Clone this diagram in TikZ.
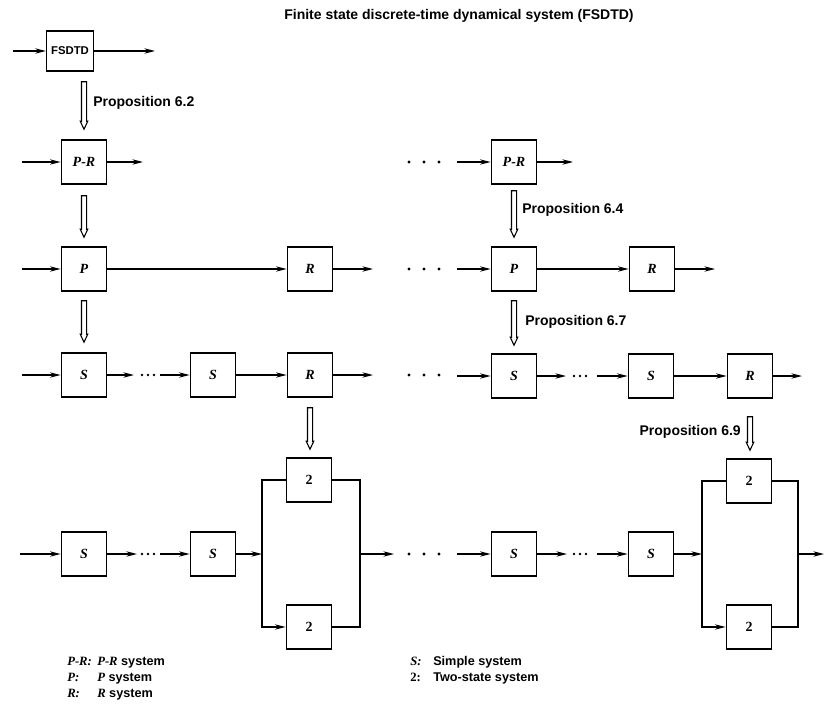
\documentclass[tikz,border=0pt]{standalone}
\usepackage{fontspec}
\setmainfont{Liberation Serif}
\newfontfamily\labelsans{Liberation Sans}
\usetikzlibrary{arrows.meta,calc}
\newcommand\hollowarr[2]{%
  \draw[line width=0.8pt, fill=white] let \p1=(#1), \p2=(#2) in
    (\x1-1.9pt,\y1) -- (\x1+1.9pt,\y1) -- (\x1+1.9pt,\y2+6pt) -- (\x1+2.8pt,\y2+6pt)
    -- (\x1,\y2) -- (\x1-2.8pt,\y2+6pt) -- (\x1-1.9pt,\y2+6pt) -- cycle;}
\begin{document}
\begin{tikzpicture}[x=0.75pt,y=-0.75pt,
  box/.style={draw, line width=1.1pt, minimum width=34pt, minimum height=33pt, inner sep=0pt,
    font=\bfseries\itshape\fontsize{10.5}{12}\selectfont},
  arr/.style={line width=0.95pt, -{Stealth[length=8pt,width=4pt]}},
  ln/.style={line width=0.95pt},
  prop/.style={font=\labelsans\bfseries\fontsize{10.5}{12}\selectfont, inner sep=0pt},
  leg/.style={font=\labelsans\bfseries\fontsize{9.5}{11}\selectfont, anchor=base west, inner sep=0pt},
  legl/.style={font=\bfseries\itshape\fontsize{9.5}{11}\selectfont, anchor=base west, inner sep=0pt},
  dot/.style={fill=black}]
\useasboundingbox (0,0) rectangle (824,713);

% title
\node[prop] (title) at (459,16) {Finite state discrete-time dynamical system (FSDTD)};

% row 0
\node[box, minimum width=35pt, minimum height=30pt, font=\labelsans\bfseries\fontsize{8.5}{10}\selectfont] (F) at (70,51) {FSDTD};
\coordinate (Fin) at (13,51);
\coordinate (Fout) at (155,51);
\draw[arr] (Fin) -- (F);
\draw[arr] (F) -- (Fout);

% row 1
\node[box] (PRa) at (84,162) {P-R};
\node[box] (PRb) at (514,162) {P-R};
\coordinate (PRain) at (22,162);
\coordinate (PRaout) at (143,162);
\coordinate (PRbin) at (457,162);
\coordinate (PRbout) at (573,162);
\draw[arr] (PRain) -- (PRa);
\draw[arr] (PRa) -- (PRaout);
\draw[arr] (PRbin) -- (PRb);
\draw[arr] (PRb) -- (PRbout);

% row 2
\node[box] (Pa) at (84,269) {P};
\node[box] (Ra) at (310,269) {R};
\node[box] (Pb) at (514,269) {P};
\node[box] (Rb) at (652,269) {R};
\coordinate (Pain) at (22,269);
\coordinate (Raout) at (373,269);
\coordinate (Pbin) at (457,269);
\coordinate (Rbout) at (715,269);
\draw[arr] (Pain) -- (Pa);
\draw[arr] (Pa) -- (Ra);
\draw[arr] (Ra) -- (Raout);
\draw[arr] (Pbin) -- (Pb);
\draw[arr] (Pb) -- (Rb);
\draw[arr] (Rb) -- (Rbout);

% row 3 left
\node[box] (S3a) at (84,375) {S};
\node[box] (S3b) at (213,375) {S};
\node[box] (R3a) at (310,375) {R};
\coordinate (S3ain) at (22,375);
\coordinate (S3ad) at (134,375);
\coordinate (S3bd) at (160,375);
\coordinate (R3aout) at (373,375);
\draw[arr] (S3ain) -- (S3a);
\draw[arr] (S3a) -- (S3ad);
\draw[arr] (S3bd) -- (S3b);
\draw[arr] (S3b) -- (R3a);
\draw[arr] (R3a) -- (R3aout);
% row 3 right
\node[box] (S3c) at (514,376) {S};
\node[box] (S3d) at (651,376) {S};
\node[box] (R3b) at (750,376) {R};
\coordinate (S3cin) at (457,376);
\coordinate (S3cd) at (566,376);
\coordinate (S3dd) at (597,376);
\coordinate (R3bout) at (802,376);
\draw[arr] (S3cin) -- (S3c);
\draw[arr] (S3c) -- (S3cd);
\draw[arr] (S3dd) -- (S3d);
\draw[arr] (S3d) -- (R3b);
\draw[arr] (R3b) -- (R3bout);

% row 4 left
\node[box] (S4a) at (84,554) {S};
\node[box] (S4b) at (213,554) {S};
\node[box, font=\bfseries\fontsize{10.5}{12}\selectfont] (Ta) at (309,480) {2};
\node[box, font=\bfseries\fontsize{10.5}{12}\selectfont] (Ba) at (309,627) {2};
\coordinate (Ja) at (262,554);
\coordinate (Ka) at (360,554);
\coordinate (S4ain) at (20,554);
\coordinate (S4ad) at (137,554);
\coordinate (S4bd) at (160,554);
\coordinate (Kaout) at (394,554);
\draw[arr] (S4ain) -- (S4a);
\draw[arr] (S4a) -- (S4ad);
\draw[arr] (S4bd) -- (S4b);
\draw[arr] (S4b) -- (Ja);
\draw[ln] (Ja) |- (Ta);
\draw[arr] (Ja) |- (Ba);
\draw[ln] (Ta) -| (Ka) |- (Ba);
\draw[arr] (Ka) -- (Kaout);
% row 4 right
\node[box] (S4c) at (514,554) {S};
\node[box] (S4d) at (651,554) {S};
\node[box, font=\bfseries\fontsize{10.5}{12}\selectfont] (Tb) at (749,481) {2};
\node[box, font=\bfseries\fontsize{10.5}{12}\selectfont] (Bb) at (749,627) {2};
\coordinate (Jb) at (702,554);
\coordinate (Kb) at (798,554);
\coordinate (S4cin) at (457,554);
\coordinate (S4cd) at (567,554);
\coordinate (S4dd) at (597,554);
\coordinate (Kbout) at (824,554);
\draw[arr] (S4cin) -- (S4c);
\draw[arr] (S4c) -- (S4cd);
\draw[arr] (S4dd) -- (S4d);
\draw[arr] (S4d) -- (Jb);
\draw[ln] (Jb) |- (Tb);
\draw[arr] (Jb) |- (Bb);
\draw[ln] (Tb) -| (Kb) |- (Bb);
\draw[arr] (Kb) -- (Kbout);

% dots between columns
\foreach \yy in {162,269,375,554} {
  \foreach \xx in {409,424,439} { \fill[dot] (\xx,\yy) circle[radius=1.2pt]; }
}
% inner dots
\foreach \xx in {142,148,154} { \fill[dot] (\xx,375) circle[radius=1pt]; \fill[dot] (\xx,554) circle[radius=1pt]; }
\foreach \xx in {574,580,586} { \fill[dot] (\xx,376) circle[radius=1pt]; \fill[dot] (\xx,554) circle[radius=1pt]; }

% hollow implication arrows
\hollowarr{$(F.south -| PRa.north)+(0,10)$}{$(PRa.north)+(0,-10)$}
\hollowarr{$(PRa.south)+(0,11)$}{$(Pa.north)+(0,-9)$}
\hollowarr{$(PRb.south)+(0,6)$}{$(Pb.north)+(0,-9)$}
\hollowarr{$(Pa.south)+(0,9)$}{$(S3a.north)+(0,-10)$}
\hollowarr{$(Pb.south)+(0,9)$}{$(S3c.north)+(0,-8)$}
\hollowarr{$(R3a.south)+(0,10)$}{$(Ta.north)+(0,-8)$}
\hollowarr{$(R3b.south)+(0,18)$}{$(Tb.north)+(0,-8)$}

% proposition labels
\node[prop, anchor=west] (p62) at (93,103) {Proposition 6.2};
\node[prop, anchor=west] (p64) at (522,210) {Proposition 6.4};
\node[prop, anchor=west] (p67) at (525,322) {Proposition 6.7};
\node[prop, anchor=east] (p69) at (741,432) {Proposition 6.9};

% legend
\node[legl] (l1a) at (67,665) {P-R:};
\node[leg] (l1b) at (97,665) {\textit{\rmfamily P-R} system};
\node[legl] (l2a) at (67,681) {P:};
\node[leg] (l2b) at (97,681) {\textit{\rmfamily P} system};
\node[legl] (l3a) at (67,697) {R:};
\node[leg] (l3b) at (97,697) {\textit{\rmfamily R} system};
\node[legl] (l4a) at (410,665) {S:};
\node[leg] (l4b) at (433,665) {Simple system};
\node[leg, font=\bfseries\fontsize{9.5}{11}\selectfont] (l5a) at (410,681) {2:};
\node[leg] (l5b) at (433,681) {Two-state system};
\end{tikzpicture}
\end{document}
